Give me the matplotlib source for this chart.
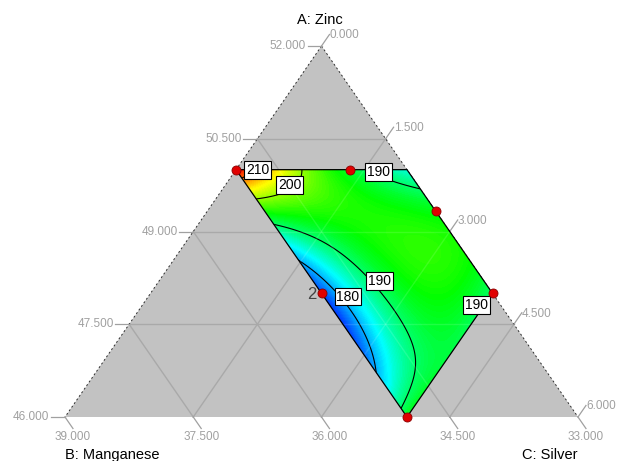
import numpy as np
import matplotlib
matplotlib.use("Agg")
import matplotlib.pyplot as plt
from matplotlib.colors import LinearSegmentedColormap
from matplotlib.patches import Polygon

plt.rcParams['font.family'] = ['Liberation Sans', 'DejaVu Sans']

# ---- mixture space: A + B + C = 85, each component spans 6 units ----
A_LO, B_LO, C_LO = 46.0, 33.0, 0.0
SPAN = 6.0

a_tick_vals = [46.0, 47.5, 49.0, 50.5, 52.0]
b_tick_vals = [39.0, 37.5, 36.0, 34.5, 33.0]
c_tick_vals = [0.0, 1.5, 3.0, 4.5, 6.0]

# constrained region (A <= 50, B <= 35, C <= 4)
region_A = [50.0, 50.0, 48.0, 46.0]
region_B = [35.0, 33.0, 33.0, 35.0]
region_C = [0.0, 2.0, 4.0, 4.0]

# design points and responses
design_A = [50.0, 50.0, 49.333, 48.0, 46.0, 48.0]
design_B = [35.0, 33.667, 33.0, 33.0, 35.0, 35.0]
design_C = [0.0, 1.333, 2.667, 4.0, 4.0, 2.0]
design_y = [214.0, 192.0, 193.0, 190.0, 192.0, 173.0]
design_reps = [1, 1, 1, 1, 1, 2]

# additional response readings inside the region
obs_A = [50.0, 49.82, 49.44, 49.05, 48.50, 46.95, 46.39, 50.0, 50.0, 49.71, 47.40, 47.52, 48.0, 48.69]
obs_B = [33.0, 35.0, 35.0, 35.0, 35.0, 35.0, 35.0, 34.256, 33.52, 33.0, 34.30, 34.88, 34.32, 34.47]
obs_C = [2.0, 0.18, 0.56, 0.95, 1.50, 3.05, 3.61, 0.744, 1.48, 2.29, 3.30, 2.60, 2.68, 1.83]
obs_y = [187, 210, 200, 190, 180, 180, 190, 200, 190, 190, 190, 180, 190, 190]

contour_levels = [180, 190, 200, 210]

# ---- page geometry of the simplex (pixels) ----
W, H = 617, 461
APEX = (321.5, 46.0)
BL = (65.0, 417.0)
BR = (578.0, 417.0)


def pseudo(A, B, C):
    A, B, C = (np.asarray(v, dtype=float) for v in (A, B, C))
    return (A - A_LO) / SPAN, (B - B_LO) / SPAN, (C - C_LO) / SPAN


def to_xy(A, B, C):
    a, b, c = pseudo(A, B, C)
    x = a * APEX[0] + b * BL[0] + c * BR[0]
    y = a * APEX[1] + b * BL[1] + c * BR[1]
    return x, y


def from_xy(x, y):
    a = (BL[1] - y) / (BL[1] - APEX[1])
    c = (x - BL[0] - a * (APEX[0] - BL[0])) / (BR[0] - BL[0])
    b = 1.0 - a - c
    return a, b, c


def terms(a, b, c):
    return np.stack([a, b, c, a * b, a * c, b * c, a * b * c], axis=-1)


# special-cubic Scheffe model fitted to the responses
fa, fb, fc = pseudo(design_A + obs_A, design_B + obs_B, design_C + obs_C)
X = terms(fa, fb, fc)
Y = np.array(design_y + obs_y, dtype=float)
wts = np.r_[np.full(len(design_y), 2.0), np.ones(len(obs_y))]
coef, *_ = np.linalg.lstsq(X * wts[:, None], Y * wts, rcond=None)

fig = plt.figure(figsize=(W / 100, H / 100), dpi=100)
ax = fig.add_axes([0, 0, 1, 1])
ax.set_xlim(0, W)
ax.set_ylim(H, 0)
ax.axis('off')

# gray simplex
tri = Polygon([APEX, BL, BR], closed=True, facecolor='#c2c2c2', edgecolor='none', zorder=0)
ax.add_patch(tri)


def grid_segments():
    segs = []
    for f in (0.25, 0.5, 0.75):
        # constant A (horizontal)
        segs.append(((f, 1 - f, 0), (f, 0, 1 - f)))
        # constant B
        segs.append(((1 - f, f, 0), (0, f, 1 - f)))
        # constant C
        segs.append(((1 - f, 0, f), (0, 1 - f, f)))
    return segs


def pt(p):
    a, b, c = p
    return (a * APEX[0] + b * BL[0] + c * BR[0], a * APEX[1] + b * BL[1] + c * BR[1])


for p0, p1 in grid_segments():
    (x0, y0), (x1, y1) = pt(p0), pt(p1)
    ax.plot([x0, x1], [y0, y1], color='#a9a9a9', lw=1.0, zorder=1)

# dashed side edges
for p0, p1 in ((APEX, BL), (APEX, BR)):
    ax.plot([p0[0], p1[0]], [p0[1], p1[1]], color='black', lw=0.7,
            dashes=(2, 2.5), alpha=0.8, zorder=2)

# response surface over the constrained region
rx, ry = to_xy(region_A, region_B, region_C)
region_poly = Polygon(np.column_stack([rx, ry]), closed=True, facecolor='none',
                      edgecolor='black', lw=0.9, zorder=4)

gx = np.linspace(rx.min() - 3, rx.max() + 3, 400)
gy = np.linspace(ry.min() - 3, ry.max() + 3, 400)
GX, GY = np.meshgrid(gx, gy)
ga, gb, gc = from_xy(GX, GY)
Z = terms(ga, gb, gc) @ coef

inside = ((ga <= 2 / 3 + 1e-9) & (gb <= 1 / 3 + 1e-9) & (gc <= 2 / 3 + 1e-9)
          & (ga >= 0) & (gb >= 0) & (gc >= 0))
zmin, zmax = Z[inside].min(), Z[inside].max()

cmap = LinearSegmentedColormap.from_list(
    'de', ['#0030ff', '#00ffff', '#00ff00', '#ffff00', '#ff0000'])
cf = ax.contourf(GX, GY, Z, levels=np.linspace(zmin, zmax, 120), cmap=cmap,
                 vmin=zmin, vmax=zmax, extend='both', zorder=3)
clip = Polygon(np.column_stack([rx, ry]), closed=True, transform=ax.transData)
cf.set_clip_path(clip)
cl = ax.contour(GX, GY, Z, levels=contour_levels, colors='black', linewidths=0.8, zorder=3.5)
cl.set_clip_path(clip)
ax.add_patch(region_poly)

# faint grid over the colored area
for p0, p1 in grid_segments():
    (x0, y0), (x1, y1) = pt(p0), pt(p1)
    ln, = ax.plot([x0, x1], [y0, y1], color='white', lw=1.0, alpha=0.12, zorder=3.6)
    ln.set_clip_path(clip)

# contour labels
label_text = ['210', '200', '190', '190', '180', '190']
label_x = [257.5, 289.5, 378.5, 379.5, 348.0, 476.5]
label_y = [170.0, 185.0, 172.0, 281.0, 296.5, 305.0]
for t, x, y in zip(label_text, label_x, label_y):
    ax.text(x, y, t, ha='center', va='center', fontsize=10, color='black', zorder=6,
            bbox=dict(boxstyle='square,pad=0.12', fc='white', ec='black', lw=0.8))

# design points
dx, dy = to_xy(design_A, design_B, design_C)
ax.plot(dx, dy, 'o', ms=6.5, mfc='#e00000', mec='#8a0000', mew=0.6, zorder=7)
for x, y, r in zip(dx, dy, design_reps):
    if r > 1:
        ax.text(x - 5, y + 1, str(r), ha='right', va='center', fontsize=12,
                color='#444444', zorder=7)

# tick marks and labels
tick_col = '#a0a0a0'
TL = 14.0
dir_left = np.array([-1.0, 0.0])
v = np.array([APEX[0] - BL[0], APEX[1] - BL[1]]); dir_right = v / np.hypot(*v)
v = np.array([BR[0] - APEX[0], BR[1] - APEX[1]]); dir_bottom = v / np.hypot(*v)

for val in a_tick_vals:
    x, y = to_xy(val, 85 - val, 0.0)
    ex, ey = x + dir_left[0] * TL, y
    ax.plot([x, ex], [y, ey], color=tick_col, lw=0.9)
    ax.text(ex - 1.5, ey, f'{val:.3f}', ha='right', va='center', fontsize=8.5, color=tick_col)

for val in c_tick_vals:
    x, y = to_xy(85 - B_LO - val, B_LO, val)
    ex, ey = x + dir_right[0] * TL, y + dir_right[1] * TL
    ax.plot([x, ex], [y, ey], color=tick_col, lw=0.9)
    ax.text(ex, ey + 1, f'{val:.3f}', ha='left', va='center', fontsize=8.5, color=tick_col)

for val in b_tick_vals:
    x, y = to_xy(A_LO, val, 85 - A_LO - val)
    ex, ey = x + dir_bottom[0] * TL, y + dir_bottom[1] * TL
    ax.plot([x, ex], [y, ey], color=tick_col, lw=0.9)
    ax.text(ex, ey + 2.5, f'{val:.3f}', ha='center', va='top', fontsize=8.5, color=tick_col)

# component titles
ax.text(APEX[0] - 2, 20, 'A: Zinc', ha='center', va='center', fontsize=10.5, color='black')
ax.text(BL[0], 455, 'B: Manganese', ha='left', va='center', fontsize=10.5, color='black')
ax.text(BR[0], 455, 'C: Silver', ha='right', va='center', fontsize=10.5, color='black')

fig.savefig('out.png', dpi=100)
